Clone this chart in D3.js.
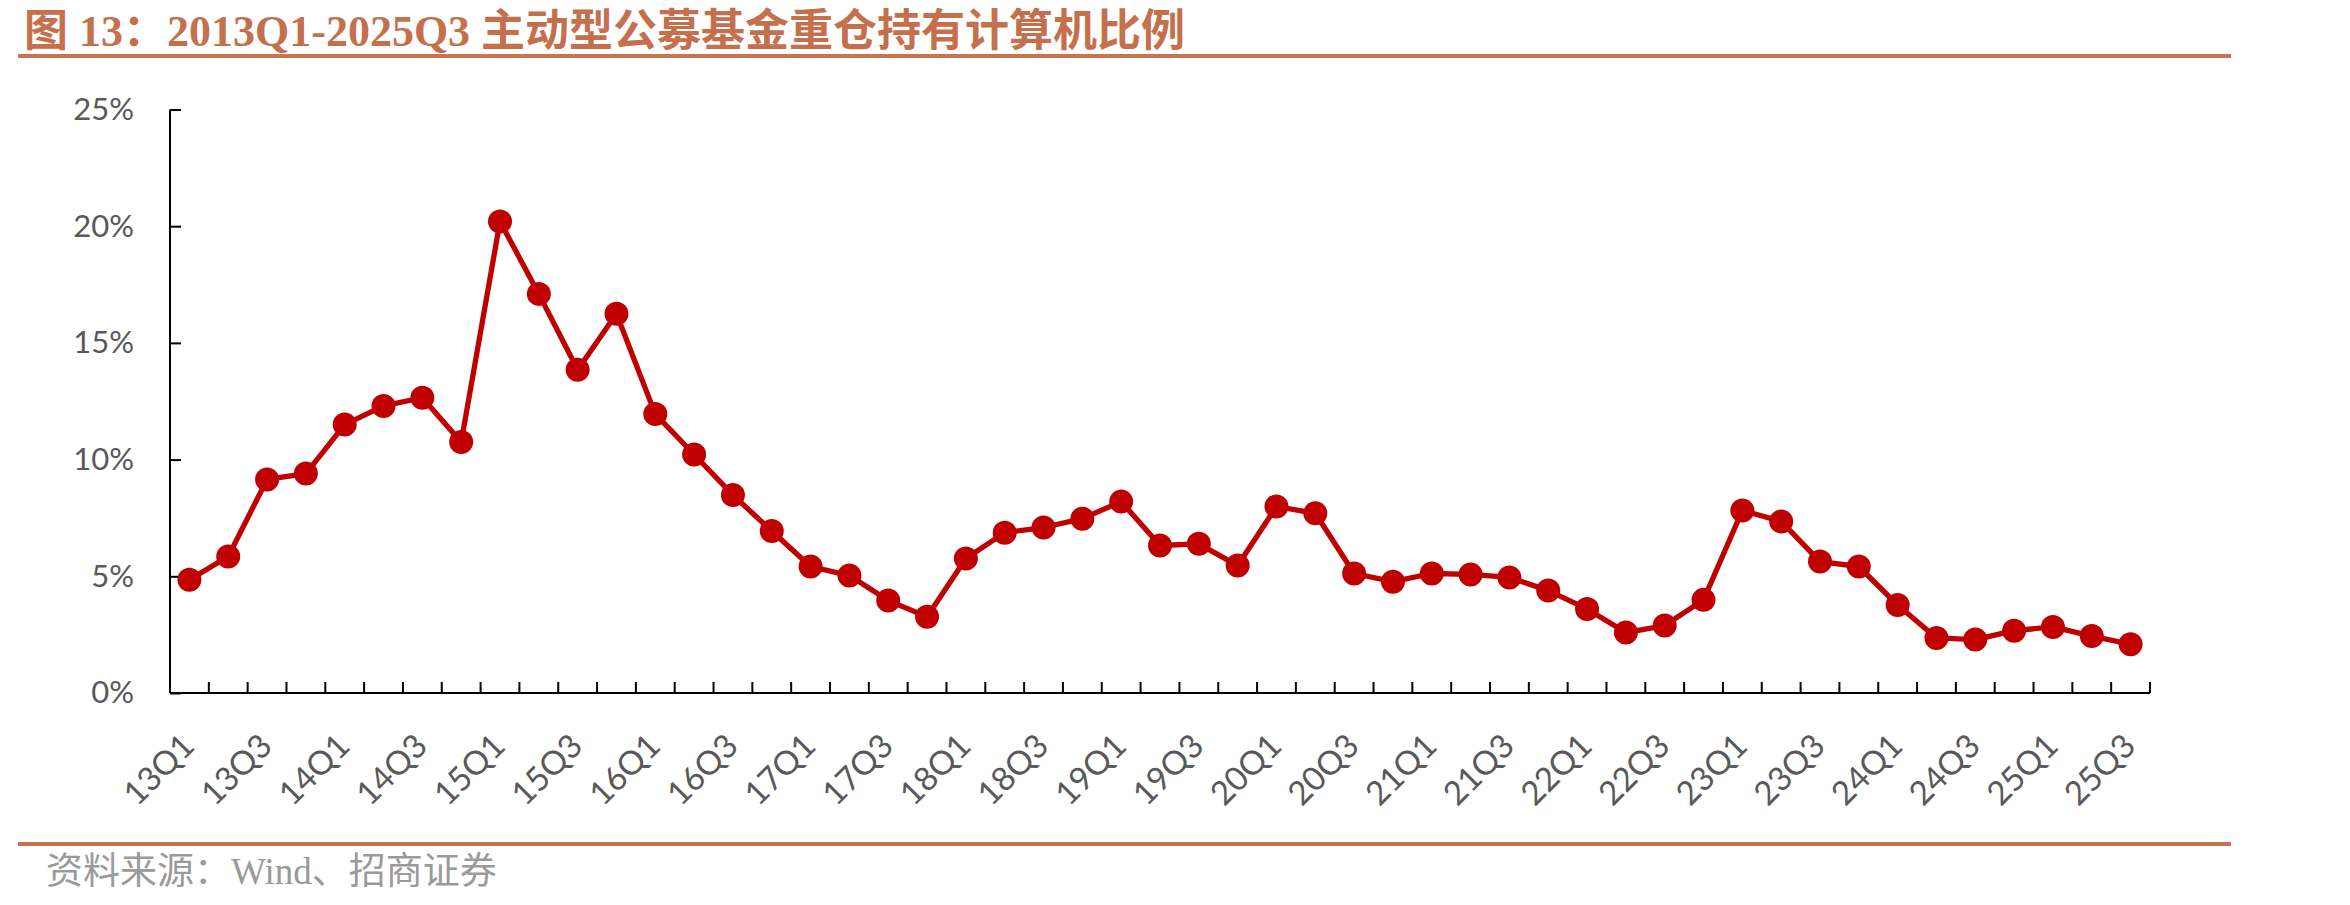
<!DOCTYPE html>
<html>
<head>
<meta charset="utf-8">
<script src="https://cdn.jsdelivr.net/npm/d3@7"></script>
<style>
  body { margin: 0; background: #fff; }
  svg text { font-family: Lato, "Noto Sans CJK SC", sans-serif; }
</style>
</head>
<body>
<div id="chart"></div>
<script>
// 主动型公募基金重仓持有计算机比例 (%)
var quarters = [
    "13Q1","13Q2","13Q3","13Q4","14Q1","14Q2","14Q3","14Q4",
    "15Q1","15Q2","15Q3","15Q4","16Q1","16Q2","16Q3","16Q4",
    "17Q1","17Q2","17Q3","17Q4","18Q1","18Q2","18Q3","18Q4",
    "19Q1","19Q2","19Q3","19Q4","20Q1","20Q2","20Q3","20Q4",
    "21Q1","21Q2","21Q3","21Q4","22Q1","22Q2","22Q3","22Q4",
    "23Q1","23Q2","23Q3","23Q4","24Q1","24Q2","24Q3","24Q4",
    "25Q1","25Q2","25Q3"
];
var shares = [
    4.85, 5.85, 9.15, 9.4, 11.5, 12.3, 12.65, 10.75,
    20.2, 17.1, 13.85, 16.25, 11.95, 10.22, 8.48, 6.94,
    5.42, 5.03, 3.96, 3.27, 5.76, 6.87, 7.09, 7.47,
    8.2, 6.32, 6.39, 5.46, 7.99, 7.7, 5.12, 4.77,
    5.12, 5.08, 4.95, 4.39, 3.6, 2.59, 2.89, 3.99,
    7.82, 7.35, 5.63, 5.42, 3.77, 2.36, 2.29, 2.67,
    2.83, 2.44, 2.09
];
var yTicks = [0, 5, 10, 15, 20, 25];

var titleText = "图 13：2013Q1-2025Q3 主动型公募基金重仓持有计算机比例";
var sourceText = "资料来源：Wind、招商证券";

var W = 2350, H = 905;
var margin = { top: 109.5, right: 200, bottom: 212, left: 170 };
var width = W - margin.left - margin.right;
var height = H - margin.top - margin.bottom;

var svg = d3.select("#chart").append("svg")
    .attr("width", W).attr("height", H);

// title + rules
svg.append("text")
    .attr("x", 24).attr("y", 46)
    .attr("fill", "#C5704D")
    .style("font-family", '"Liberation Serif", "Noto Sans CJK SC", serif')
    .style("font-weight", "bold")
    .style("font-size", "44px")
    .text(titleText);

svg.append("line").attr("x1", 18).attr("x2", 2231).attr("y1", 56).attr("y2", 56)
    .attr("stroke", "#C9734F").attr("stroke-width", 4);
svg.append("line").attr("x1", 18).attr("x2", 2231).attr("y1", 844).attr("y2", 844)
    .attr("stroke", "#C9734F").attr("stroke-width", 4);

svg.append("text")
    .attr("x", 46).attr("y", 884)
    .attr("fill", "#9A9A9A")
    .style("font-family", '"Liberation Serif", "Noto Sans CJK SC", serif')
    .style("font-size", "37px")
    .text(sourceText);

var g = svg.append("g")
    .attr("transform", "translate(" + margin.left + "," + margin.top + ")");

var x = d3.scaleBand().domain(quarters).range([0, width]);
var y = d3.scaleLinear().domain([0, 25]).range([height, 0]);

// y axis, ticks pointing inward
var yAxis = g.append("g")
    .call(d3.axisRight(y).tickValues(yTicks).tickSize(11).tickFormat(function(d) { return d + "%"; }));
yAxis.select(".domain").attr("stroke", "#000").attr("stroke-width", 2).attr("d", "M0," + y(25) + "V" + y(0));
yAxis.selectAll(".tick line").attr("stroke", "#000").attr("stroke-width", 2);
yAxis.selectAll(".tick text")
    .attr("x", -36).attr("text-anchor", "end")
    .attr("fill", "#595959").style("font-size", "31px");

// x axis, tick marks between categories
var xAxis = g.append("g").attr("transform", "translate(0," + height + ")");
xAxis.append("line").attr("x1", 0).attr("x2", width)
    .attr("stroke", "#000").attr("stroke-width", 2);
var bounds = d3.range(quarters.length + 1);
xAxis.selectAll(".xtick").data(bounds).enter().append("line")
    .attr("class", "xtick")
    .attr("x1", function(i) { return i * x.step(); })
    .attr("x2", function(i) { return i * x.step(); })
    .attr("y1", 0).attr("y2", -11)
    .attr("stroke", "#000").attr("stroke-width", 2);
xAxis.selectAll(".xlab").data(quarters.filter(function(d, i) { return i % 2 === 0; }))
    .enter().append("text")
    .attr("class", "xlab")
    .attr("text-anchor", "end")
    .attr("fill", "#595959")
    .style("font-size", "33px")
    .attr("transform", function(d) {
        return "translate(" + (x(d) + x.bandwidth() / 2 + 7) + ",55) rotate(-45)";
    })
    .text(function(d) { return d; });

// line + markers
var line = d3.line()
    .x(function(d, i) { return x(quarters[i]) + x.bandwidth() / 2; })
    .y(function(d) { return y(d); });

g.append("path").datum(shares)
    .attr("fill", "none")
    .attr("stroke", "#C00000")
    .attr("stroke-width", 5.3)
    .attr("stroke-linejoin", "round")
    .attr("d", line);

g.selectAll(".point").data(shares).enter().append("circle")
    .attr("class", "point")
    .attr("cx", function(d, i) { return x(quarters[i]) + x.bandwidth() / 2; })
    .attr("cy", function(d) { return y(d); })
    .attr("r", 12)
    .attr("fill", "#C00000");
</script>
</body>
</html>
